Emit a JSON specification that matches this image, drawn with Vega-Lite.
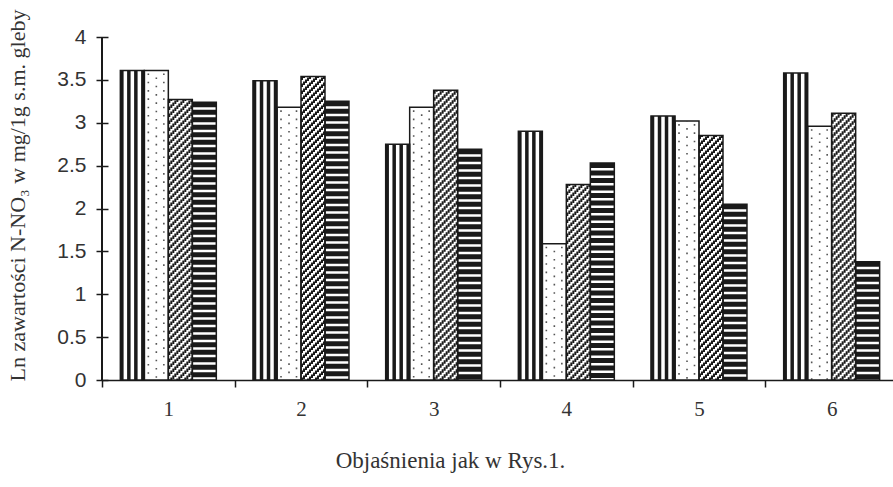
{
  "$schema": "https://vega.github.io/schema/vega-lite/v6.json",
  "width": 791,
  "height": 343,
  "autosize": {"type": "none"},
  "padding": {"left": 102, "top": 37, "right": 0, "bottom": 107},
  "background": "white",
  "config": {"view": {"stroke": null}},
  "data": {
    "values": [
      {"group": "1", "series": "A", "value": 3.61},
      {"group": "1", "series": "B", "value": 3.61},
      {"group": "1", "series": "C", "value": 3.27},
      {"group": "1", "series": "D", "value": 3.24},
      {"group": "2", "series": "A", "value": 3.49},
      {"group": "2", "series": "B", "value": 3.18},
      {"group": "2", "series": "C", "value": 3.54},
      {"group": "2", "series": "D", "value": 3.25},
      {"group": "3", "series": "A", "value": 2.75},
      {"group": "3", "series": "B", "value": 3.18},
      {"group": "3", "series": "C", "value": 3.38},
      {"group": "3", "series": "D", "value": 2.69},
      {"group": "4", "series": "A", "value": 2.90},
      {"group": "4", "series": "B", "value": 1.59},
      {"group": "4", "series": "C", "value": 2.28},
      {"group": "4", "series": "D", "value": 2.53},
      {"group": "5", "series": "A", "value": 3.08},
      {"group": "5", "series": "B", "value": 3.02},
      {"group": "5", "series": "C", "value": 2.85},
      {"group": "5", "series": "D", "value": 2.05},
      {"group": "6", "series": "A", "value": 3.58},
      {"group": "6", "series": "B", "value": 2.96},
      {"group": "6", "series": "C", "value": 3.11},
      {"group": "6", "series": "D", "value": 1.38}
    ]
  },
  "layer": [
    {
      "mark": {"type": "bar", "fill": "white", "strokeWidth": 0},
      "encoding": {
        "x": {
          "field": "group", "type": "nominal",
          "scale": {"range": [0, 796], "paddingInner": 0, "paddingOuter": 0},
          "axis": {
            "title": "Objaśnienia jak w Rys.1.",
            "labelAngle": 0,
            "tickBand": "extent",
            "tickSize": 7,
            "tickColor": "#1a1a1a",
            "tickWidth": 1.5,
            "domainColor": "#1a1a1a",
            "domainWidth": 1.5,
            "labelFont": "Liberation Serif",
            "labelFontSize": 21,
            "labelColor": "#333333",
            "labelPadding": 11,
            "titleFont": "Liberation Serif",
            "titleFontSize": 23,
            "titleFontWeight": "normal",
            "titleColor": "#333333",
            "titleX": 348,
            "titleY": 80,
            "titleAlign": "center",
            "titleBaseline": "middle"
          }
        },
        "xOffset": {"field": "series", "type": "nominal", "scale": {"paddingInner": 0, "paddingOuter": 0.765}},
        "y": {
          "field": "value", "type": "quantitative",
          "scale": {"domain": [0, 4], "nice": false},
          "axis": {
            "title": "Ln zawartości N-NO₃ w mg/1g s.m. gleby",
            "values": [0, 0.5, 1, 1.5, 2, 2.5, 3, 3.5, 4],
            "format": "~g",
            "offset": -6,
            "tickSize": 12,
            "domain": false,
            "grid": false,
            "tickColor": "#1a1a1a",
            "tickWidth": 1.5,
            "labelFont": "Liberation Sans",
            "labelFontSize": 21,
            "labelColor": "#333333",
            "labelPadding": 10,
            "titleFont": "Liberation Serif",
            "titleFontSize": 22,
            "titleFontWeight": "normal",
            "titleColor": "#333333",
            "titleX": -91,
            "titleY": 158,
            "titleAngle": -90,
            "titleAlign": "center",
            "titleBaseline": "middle"
          }
        }
      }
    },
    {"transform": [{"filter": "datum.series === 'A'"}], "mark": {"type": "rule", "stroke": "#1a1a1a", "strokeWidth": 3.5, "xOffset": -10.5},
     "encoding": {"x": {"field": "group", "type": "nominal", "bandPosition": 0.2288}, "y": {"field": "value", "type": "quantitative"}, "y2": {"datum": 0}}},
    {"transform": [{"filter": "datum.series === 'A'"}], "mark": {"type": "rule", "stroke": "#1a1a1a", "strokeWidth": 3.5, "xOffset": -3.5},
     "encoding": {"x": {"field": "group", "type": "nominal", "bandPosition": 0.2288}, "y": {"field": "value", "type": "quantitative"}, "y2": {"datum": 0}}},
    {"transform": [{"filter": "datum.series === 'A'"}], "mark": {"type": "rule", "stroke": "#1a1a1a", "strokeWidth": 3.5, "xOffset": 3.5},
     "encoding": {"x": {"field": "group", "type": "nominal", "bandPosition": 0.2288}, "y": {"field": "value", "type": "quantitative"}, "y2": {"datum": 0}}},
    {"transform": [{"filter": "datum.series === 'A'"}], "mark": {"type": "rule", "stroke": "#1a1a1a", "strokeWidth": 3.5, "xOffset": 10.5},
     "encoding": {"x": {"field": "group", "type": "nominal", "bandPosition": 0.2288}, "y": {"field": "value", "type": "quantitative"}, "y2": {"datum": 0}}},
    {"transform": [{"filter": "datum.series === 'B'"}], "mark": {"type": "rule", "stroke": "#555555", "strokeWidth": 1.6, "strokeDash": [1.6, 6.7], "strokeDashOffset": -3, "xOffset": -8},
     "encoding": {"x": {"field": "group", "type": "nominal", "bandPosition": 0.4096}, "y": {"field": "value", "type": "quantitative"}, "y2": {"datum": 0}}},
    {"transform": [{"filter": "datum.series === 'B'"}], "mark": {"type": "rule", "stroke": "#555555", "strokeWidth": 1.6, "strokeDash": [1.6, 6.7], "strokeDashOffset": -7, "xOffset": 0},
     "encoding": {"x": {"field": "group", "type": "nominal", "bandPosition": 0.4096}, "y": {"field": "value", "type": "quantitative"}, "y2": {"datum": 0}}},
    {"transform": [{"filter": "datum.series === 'B'"}], "mark": {"type": "rule", "stroke": "#555555", "strokeWidth": 1.6, "strokeDash": [1.6, 6.7], "strokeDashOffset": -3, "xOffset": 7.5},
     "encoding": {"x": {"field": "group", "type": "nominal", "bandPosition": 0.4096}, "y": {"field": "value", "type": "quantitative"}, "y2": {"datum": 0}}},
    {"transform": [{"filter": "datum.series === 'C'"}], "mark": {"type": "rule", "stroke": "#1a1a1a", "strokeWidth": 2, "strokeDash": [3.5, 3.5], "strokeDashOffset": 0, "xOffset": -11},
     "encoding": {"x": {"field": "group", "type": "nominal", "bandPosition": 0.5904}, "y": {"field": "value", "type": "quantitative"}, "y2": {"datum": 0}}},
    {"transform": [{"filter": "datum.series === 'C'"}], "mark": {"type": "rule", "stroke": "#1a1a1a", "strokeWidth": 2, "strokeDash": [3.5, 3.5], "strokeDashOffset": 2, "xOffset": -9},
     "encoding": {"x": {"field": "group", "type": "nominal", "bandPosition": 0.5904}, "y": {"field": "value", "type": "quantitative"}, "y2": {"datum": 0}}},
    {"transform": [{"filter": "datum.series === 'C'"}], "mark": {"type": "rule", "stroke": "#1a1a1a", "strokeWidth": 2, "strokeDash": [3.5, 3.5], "strokeDashOffset": 4, "xOffset": -7},
     "encoding": {"x": {"field": "group", "type": "nominal", "bandPosition": 0.5904}, "y": {"field": "value", "type": "quantitative"}, "y2": {"datum": 0}}},
    {"transform": [{"filter": "datum.series === 'C'"}], "mark": {"type": "rule", "stroke": "#1a1a1a", "strokeWidth": 2, "strokeDash": [3.5, 3.5], "strokeDashOffset": 6, "xOffset": -5},
     "encoding": {"x": {"field": "group", "type": "nominal", "bandPosition": 0.5904}, "y": {"field": "value", "type": "quantitative"}, "y2": {"datum": 0}}},
    {"transform": [{"filter": "datum.series === 'C'"}], "mark": {"type": "rule", "stroke": "#1a1a1a", "strokeWidth": 2, "strokeDash": [3.5, 3.5], "strokeDashOffset": 8, "xOffset": -3},
     "encoding": {"x": {"field": "group", "type": "nominal", "bandPosition": 0.5904}, "y": {"field": "value", "type": "quantitative"}, "y2": {"datum": 0}}},
    {"transform": [{"filter": "datum.series === 'C'"}], "mark": {"type": "rule", "stroke": "#1a1a1a", "strokeWidth": 2, "strokeDash": [3.5, 3.5], "strokeDashOffset": 10, "xOffset": -1},
     "encoding": {"x": {"field": "group", "type": "nominal", "bandPosition": 0.5904}, "y": {"field": "value", "type": "quantitative"}, "y2": {"datum": 0}}},
    {"transform": [{"filter": "datum.series === 'C'"}], "mark": {"type": "rule", "stroke": "#1a1a1a", "strokeWidth": 2, "strokeDash": [3.5, 3.5], "strokeDashOffset": 12, "xOffset": 1},
     "encoding": {"x": {"field": "group", "type": "nominal", "bandPosition": 0.5904}, "y": {"field": "value", "type": "quantitative"}, "y2": {"datum": 0}}},
    {"transform": [{"filter": "datum.series === 'C'"}], "mark": {"type": "rule", "stroke": "#1a1a1a", "strokeWidth": 2, "strokeDash": [3.5, 3.5], "strokeDashOffset": 14, "xOffset": 3},
     "encoding": {"x": {"field": "group", "type": "nominal", "bandPosition": 0.5904}, "y": {"field": "value", "type": "quantitative"}, "y2": {"datum": 0}}},
    {"transform": [{"filter": "datum.series === 'C'"}], "mark": {"type": "rule", "stroke": "#1a1a1a", "strokeWidth": 2, "strokeDash": [3.5, 3.5], "strokeDashOffset": 16, "xOffset": 5},
     "encoding": {"x": {"field": "group", "type": "nominal", "bandPosition": 0.5904}, "y": {"field": "value", "type": "quantitative"}, "y2": {"datum": 0}}},
    {"transform": [{"filter": "datum.series === 'C'"}], "mark": {"type": "rule", "stroke": "#1a1a1a", "strokeWidth": 2, "strokeDash": [3.5, 3.5], "strokeDashOffset": 18, "xOffset": 7},
     "encoding": {"x": {"field": "group", "type": "nominal", "bandPosition": 0.5904}, "y": {"field": "value", "type": "quantitative"}, "y2": {"datum": 0}}},
    {"transform": [{"filter": "datum.series === 'C'"}], "mark": {"type": "rule", "stroke": "#1a1a1a", "strokeWidth": 2, "strokeDash": [3.5, 3.5], "strokeDashOffset": 20, "xOffset": 9},
     "encoding": {"x": {"field": "group", "type": "nominal", "bandPosition": 0.5904}, "y": {"field": "value", "type": "quantitative"}, "y2": {"datum": 0}}},
    {"transform": [{"filter": "datum.series === 'C'"}], "mark": {"type": "rule", "stroke": "#1a1a1a", "strokeWidth": 2, "strokeDash": [3.5, 3.5], "strokeDashOffset": 22, "xOffset": 11},
     "encoding": {"x": {"field": "group", "type": "nominal", "bandPosition": 0.5904}, "y": {"field": "value", "type": "quantitative"}, "y2": {"datum": 0}}},
    {"transform": [{"filter": "datum.series === 'D'"}], "mark": {"type": "rule", "stroke": "#1a1a1a", "strokeWidth": 24, "strokeDash": [5, 2.5]},
     "encoding": {"x": {"field": "group", "type": "nominal", "bandPosition": 0.7712}, "y": {"field": "value", "type": "quantitative"}, "y2": {"datum": 0}}},
    {
      "mark": {"type": "bar", "fillOpacity": 0, "stroke": "#1a1a1a", "strokeWidth": 1.5},
      "encoding": {
        "x": {"field": "group", "type": "nominal"},
        "xOffset": {"field": "series", "type": "nominal"},
        "y": {"field": "value", "type": "quantitative"}
      }
    },
    {
      "mark": {"type": "rule", "stroke": "#1a1a1a", "strokeWidth": 1.5},
      "encoding": {
        "x": {"datum": "1", "type": "nominal", "bandPosition": 0},
        "y": {"datum": 0, "type": "quantitative"},
        "y2": {"datum": 4}
      }
    }
  ]
}
